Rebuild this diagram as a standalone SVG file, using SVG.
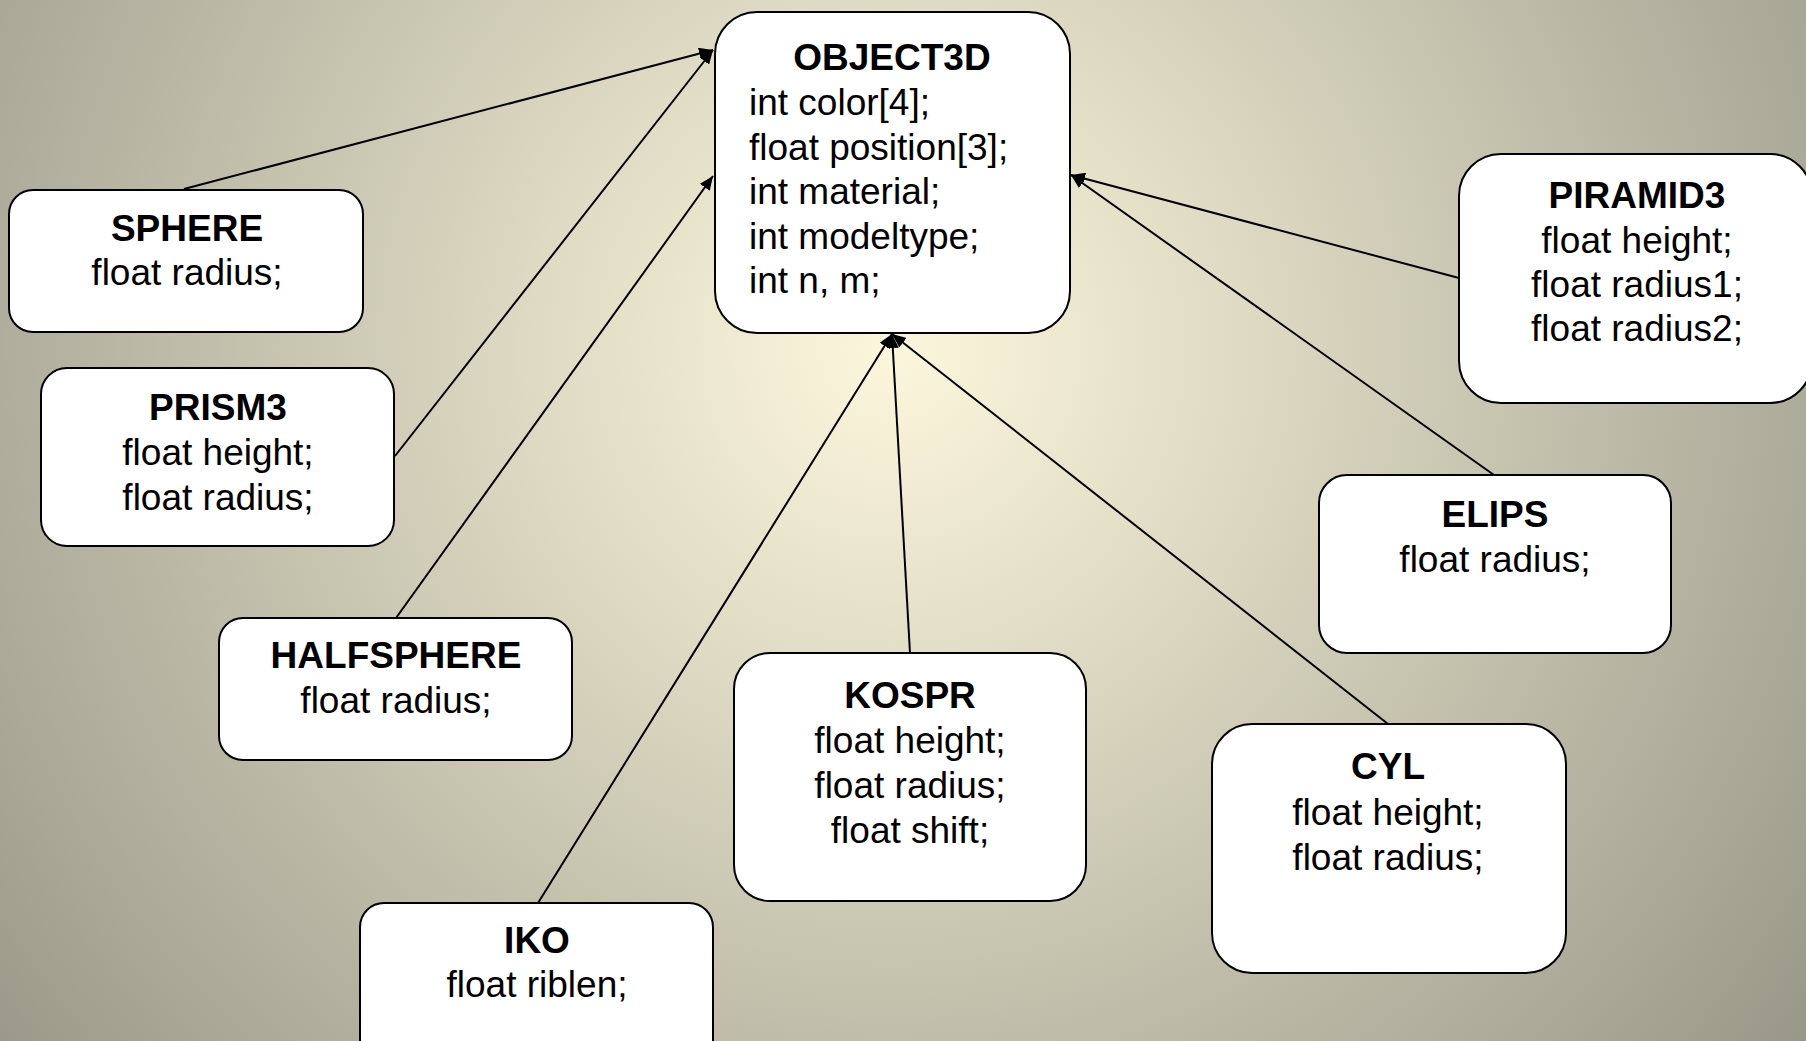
<svg xmlns="http://www.w3.org/2000/svg" width="1806" height="1041" viewBox="0 0 1806 1041">
<defs>
<radialGradient id="bg" gradientUnits="userSpaceOnUse" cx="890" cy="350" r="1150">
<stop offset="0" stop-color="#FCF6DC"/>
<stop offset="0.25" stop-color="#E4E0C8"/>
<stop offset="0.6" stop-color="#C0BDAA"/>
<stop offset="1" stop-color="#999888"/>
</radialGradient>
<marker id="arr" markerUnits="userSpaceOnUse" markerWidth="14" markerHeight="12" refX="14" refY="6" orient="auto">
<path d="M0,0 L14,6 L0,12 z" fill="#000"/>
</marker>
<style>
.box{fill:#fff;stroke:#000;stroke-width:2}
.t{font-family:"Liberation Sans",Arial,sans-serif;font-size:37px;fill:#000}
.h{font-weight:bold}
.c{text-anchor:middle}
.ln{stroke:#000;stroke-width:2;fill:none;marker-end:url(#arr)}
</style>
</defs>
<rect width="1806" height="1041" fill="url(#bg)"/>
<g id="connectors">
<line class="ln" x1="184" y1="189" x2="713" y2="50"/>
<line class="ln" x1="395" y1="456" x2="713" y2="50"/>
<line class="ln" x1="396" y1="618" x2="713" y2="176"/>
<line class="ln" x1="538" y1="903" x2="892" y2="334"/>
<line class="ln" x1="910" y1="653" x2="892" y2="334"/>
<line class="ln" x1="1388" y1="724" x2="892" y2="334"/>
<line class="ln" x1="1494" y1="475" x2="1071" y2="175"/>
<line class="ln" x1="1459" y1="278" x2="1071" y2="175"/>
</g>
<g id="object3d">
<rect class="box" x="715" y="12" width="355" height="321" rx="42"/>
<text class="t h c" x="892" y="70">OBJECT3D</text>
<text class="t" x="749" y="115">int color[4];</text>
<text class="t" x="749" y="160">float position[3];</text>
<text class="t" x="749" y="204">int material;</text>
<text class="t" x="749" y="249">int modeltype;</text>
<text class="t" x="749" y="293">int n, m;</text>
</g>
<g id="sphere">
<rect class="box" x="9" y="190" width="354" height="142" rx="24"/>
<text class="t h c" x="187" y="241">SPHERE</text>
<text class="t c" x="187" y="285">float radius;</text>
</g>
<g id="prism3">
<rect class="box" x="41" y="368" width="353" height="178" rx="26"/>
<text class="t h c" x="218" y="420">PRISM3</text>
<text class="t c" x="218" y="465">float height;</text>
<text class="t c" x="218" y="510">float radius;</text>
</g>
<g id="halfsphere">
<rect class="box" x="219" y="618" width="353" height="142" rx="24"/>
<text class="t h c" x="396" y="668">HALFSPHERE</text>
<text class="t c" x="396" y="713">float radius;</text>
</g>
<g id="iko">
<rect class="box" x="360" y="903" width="353" height="160" rx="24"/>
<text class="t h c" x="537" y="953">IKO</text>
<text class="t c" x="537" y="997">float riblen;</text>
</g>
<g id="kospr">
<rect class="box" x="734" y="653" width="352" height="248" rx="36"/>
<text class="t h c" x="910" y="708">KOSPR</text>
<text class="t c" x="910" y="753">float height;</text>
<text class="t c" x="910" y="798">float radius;</text>
<text class="t c" x="910" y="843">float shift;</text>
</g>
<g id="cyl">
<rect class="box" x="1212" y="724" width="354" height="249" rx="40"/>
<text class="t h c" x="1388" y="779">CYL</text>
<text class="t c" x="1388" y="825">float height;</text>
<text class="t c" x="1388" y="870">float radius;</text>
</g>
<g id="elips">
<rect class="box" x="1319" y="475" width="352" height="178" rx="28"/>
<text class="t h c" x="1495" y="527">ELIPS</text>
<text class="t c" x="1495" y="572">float radius;</text>
</g>
<g id="piramid3">
<rect class="box" x="1459" y="154" width="353" height="249" rx="42"/>
<text class="t h c" x="1637" y="208">PIRAMID3</text>
<text class="t c" x="1637" y="253">float height;</text>
<text class="t c" x="1637" y="297">float radius1;</text>
<text class="t c" x="1637" y="341">float radius2;</text>
</g>
</svg>
